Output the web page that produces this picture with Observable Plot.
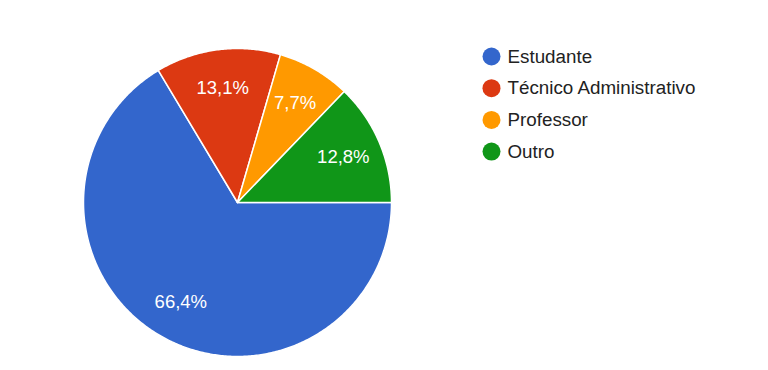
<!DOCTYPE html>
<html>
<head>
<meta charset="utf-8">
<script src="https://cdn.jsdelivr.net/npm/d3@7"></script>
<script src="https://cdn.jsdelivr.net/npm/@observablehq/plot@0.6"></script>
<style>
  html, body { margin: 0; padding: 0; background: #fff; }
</style>
</head>
<body>
<div id="chart"></div>
<script>
const categories = ["Estudante", "Técnico Administrativo", "Professor", "Outro"];
const values = [66.4, 13.1, 7.7, 12.8];
const valueLabels = ["66,4%", "13,1%", "7,7%", "12,8%"];
const colors = ["#3366cc", "#dc3912", "#ff9900", "#109618"];

const R = 154;       // pie radius (plot units = px)
const labelR = 115;  // label distance from centre

const arcs = d3.pie().sort(null)
  .startAngle(Math.PI / 2).endAngle(Math.PI / 2 + 2 * Math.PI)(values);

const slicePts = [];
arcs.forEach((a, i) => {
  const cat = categories[i];
  slicePts.push({cat, x: 0, y: 0});
  const n = Math.max(2, Math.ceil((a.endAngle - a.startAngle) / 0.01));
  for (let k = 0; k <= n; k++) {
    const t = a.startAngle + (a.endAngle - a.startAngle) * k / n;
    slicePts.push({cat, x: R * Math.sin(t), y: R * Math.cos(t)});
  }
  slicePts.push({cat, x: 0, y: 0});
});

const labelPts = arcs.map((a, i) => {
  const m = (a.startAngle + a.endAngle) / 2;
  return {label: valueLabels[i], x: labelR * Math.sin(m), y: labelR * Math.cos(m)};
});

const legend = categories.map((c, i) => ({cat: c, i}));

const chart = Plot.plot({
  width: 768,
  height: 370,
  margin: 0,
  x: {domain: [-237, 531], axis: null},
  y: {domain: [-168, 202], axis: null},
  color: {domain: categories, range: colors},
  style: {fontFamily: "'Liberation Sans', Arial, sans-serif", background: "#fff"},
  marks: [
    Plot.line(slicePts, {x: "x", y: "y", z: "cat", fill: "cat", stroke: "#fff", strokeWidth: 1.5, strokeLinejoin: "round"}),
    Plot.text(labelPts, {x: "x", y: "y", text: "label", fill: "#fff", fontSize: 18.5, textAnchor: "middle", lineAnchor: "middle"}),
    Plot.dot(legend, {x: () => 254, y: d => 146 - d.i * 31.7, fill: "cat", r: 9, stroke: null}),
    Plot.text(legend, {x: () => 270, y: d => 146 - d.i * 31.7, text: "cat", fill: "#222", fontSize: 18.8, textAnchor: "start", lineAnchor: "middle"})
  ]
});
document.getElementById("chart").appendChild(chart);
</script>
</body>
</html>
